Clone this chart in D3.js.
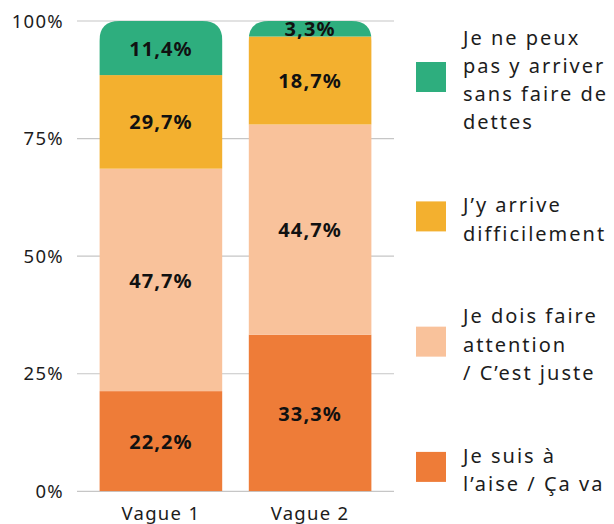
<!DOCTYPE html>
<html>
<head>
<meta charset="utf-8">
<script src="https://cdn.jsdelivr.net/npm/d3@7/dist/d3.min.js"></script>
<style>
  html, body { margin: 0; padding: 0; background: #fff; }
  svg { display: block; font-family: "Noto Sans", "Open Sans", sans-serif; }
</style>
</head>
<body>
<svg id="chart" width="614" height="524"></svg>
<script>
// ---- Data ----
const categories = ["Vague 1", "Vague 2"];
// Segment heights as drawn in the picture (bottom to top)
const aise      = [21.3, 33.3];
const attention = [47.3, 44.7];
const difficile = [19.9, 18.7];
const dettes    = [11.5, 3.3];
// Labels as printed on the bars
const labelsAise      = ["22,2%", "33,3%"];
const labelsAttention = ["47,7%", "44,7%"];
const labelsDifficile = ["29,7%", "18,7%"];
const labelsDettes    = ["11,4%", "3,3%"];
const yTicks = [0, 25, 50, 75, 100];
const seriesKeys = ["aise", "attention", "difficile", "dettes"];
const seriesColors = ["#ee7c38", "#f9c29b", "#f3b02f", "#2eae7e"];
const legendLabels = [
  ["Je ne peux", "pas y arriver", "sans faire de", "dettes"],
  ["J\u2019y arrive", "difficilement"],
  ["Je dois faire", "attention", "/ C\u2019est juste"],
  ["Je suis \u00e0", "l\u2019aise / \u00c7a va"]
];
const legendColors = ["#2eae7e", "#f3b02f", "#f9c29b", "#ee7c38"];

// ---- Build table ----
const table = categories.map((c, i) => ({
  cat: c,
  aise: aise[i], attention: attention[i], difficile: difficile[i], dettes: dettes[i]
}));
const labelTable = {
  aise: labelsAise, attention: labelsAttention, difficile: labelsDifficile, dettes: labelsDettes
};
const stacked = d3.stack().keys(seriesKeys)(table);

// ---- Scales ----
const svg = d3.select("#chart");
const x = d3.scaleBand().domain(categories).range([77, 394]).paddingInner(0.175).paddingOuter(0.15);
const y = d3.scaleLinear().domain([0, 100]).range([491.3, 21]);

// Gridlines
svg.append("g").selectAll("line").data(yTicks).join("line")
  .attr("x1", 77).attr("x2", 394)
  .attr("y1", d => y(d)).attr("y2", d => y(d))
  .attr("stroke", "#c6c6c6").attr("stroke-width", 1.2);

// Y axis labels
svg.append("g").selectAll("text").data(yTicks).join("text")
  .attr("x", 64).attr("y", d => y(d)).attr("dy", "0.36em")
  .attr("text-anchor", "end")
  .attr("font-size", 18.5).attr("letter-spacing", 1.3)
  .attr("fill", "#1c1c1c")
  .text(d => d + "%");

// Clip paths for rounded bar tops
const r = 20;
const defs = svg.append("defs");
categories.forEach((c, i) => {
  const x0 = x(c), w = x.bandwidth(), yt = y(100), yb = y(0);
  defs.append("clipPath").attr("id", "clip" + i)
    .append("path")
    .attr("d", `M${x0},${yb} L${x0},${yt + r} Q${x0},${yt} ${x0 + r},${yt} L${x0 + w - r},${yt} Q${x0 + w},${yt} ${x0 + w},${yt + r} L${x0 + w},${yb} Z`);
});

// Bars
categories.forEach((c, i) => {
  const g = svg.append("g").attr("clip-path", `url(#clip${i})`);
  g.selectAll("rect").data(stacked).join("rect")
    .attr("x", x(c))
    .attr("width", x.bandwidth())
    .attr("y", s => y(s[i][1]))
    .attr("height", s => y(s[i][0]) - y(s[i][1]))
    .attr("fill", (s, k) => seriesColors[k]);
});

// Bar labels
const lbl = svg.append("g");
stacked.forEach(s => {
  s.forEach((d, i) => {
    lbl.append("text")
      .attr("x", x(categories[i]) + x.bandwidth() / 2)
      .attr("y", (y(d[0]) + y(d[1])) / 2)
      .attr("dy", "0.38em")
      .attr("text-anchor", "middle")
      .attr("font-size", 20).attr("font-weight", 700).attr("letter-spacing", 1.1)
      .attr("fill", "#111")
      .text(labelTable[s.key][i]);
  });
});

// X axis labels
svg.append("g").selectAll("text").data(categories).join("text")
  .attr("x", d => x(d) + x.bandwidth() / 2)
  .attr("y", 520)
  .attr("text-anchor", "middle")
  .attr("font-size", 18.5).attr("letter-spacing", 1.3)
  .attr("fill", "#1c1c1c")
  .text(d => d);

// Legend
const lineH = 28.3, gap = 54.5;
let legendTop = 20.4;
const leg = svg.append("g");
legendLabels.forEach((lines, k) => {
  const h = lines.length * lineH;
  const cy = legendTop + h / 2;
  leg.append("rect").attr("x", 416).attr("y", cy - 15).attr("width", 30).attr("height", 30)
    .attr("fill", legendColors[k]);
  lines.forEach((t, j) => {
    leg.append("text")
      .attr("x", 463)
      .attr("y", cy + (j - (lines.length - 1) / 2) * lineH + 10)
      .attr("font-size", 20).attr("letter-spacing", 2)
      .attr("fill", "#1c1c1c")
      .text(t);
  });
  legendTop += h + gap;
});
</script>
</body>
</html>
